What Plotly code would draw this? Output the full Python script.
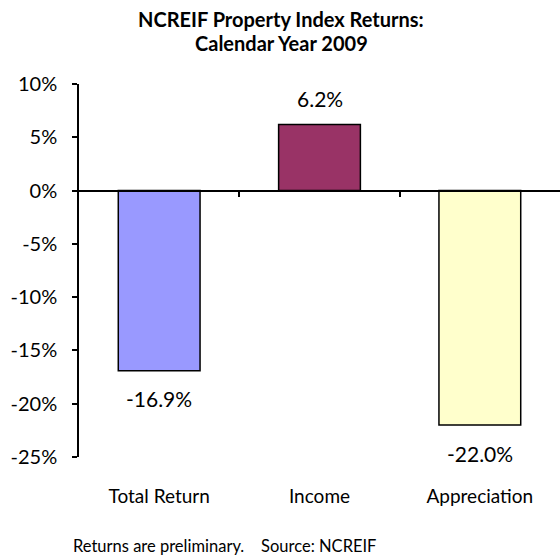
import plotly.graph_objects as go

categories = ["Total Return", "Income", "Appreciation"]
values = [-16.9, 6.2, -22.0]
labels = ["-16.9%", "6.2%", "-22.0%"]
colors = ["#9999FF", "#993366", "#FFFFCC"]
ytick_vals = [10, 5, 0, -5, -10, -15, -20, -25]
ytick_text = ["10%", "5%", "0%", "-5%", "-10%", "-15%", "-20%", "-25%"]
title_lines = ["NCREIF Property Index Returns:", "Calendar Year 2009"]
footer = "Returns are preliminary.&nbsp;&nbsp;&nbsp; Source: NCREIF"

FONT = "Lato"
ymin, ymax = -25, 10
W, H = 560, 559
ML, MR, MT, MB = 79, 0, 84, 102
PH = H - MT - MB


def py(px):
    """pixel row from top -> paper y"""
    return (H - MB - px) / PH


def px_x(px):
    return (px - ML) / (W - ML - MR)


fig = go.Figure()
fig.add_trace(go.Bar(
    x=[0, 1, 2], y=values, width=0.51,
    marker=dict(color=colors, line=dict(color="black", width=1.5)),
    hoverinfo="skip", showlegend=False,
))
# invisible trace on the zero-line axis
fig.add_trace(go.Scatter(x=[0, 2], y=[0, 0], xaxis="x2", mode="lines",
                         line=dict(width=0), hoverinfo="skip", showlegend=False))

for i, (v, t) in enumerate(zip(values, labels)):
    fig.add_annotation(x=i, y=v, text=t, showarrow=False,
                       yshift=26 if v > 0 else -28,
                       font=dict(family=FONT, size=21, color="black"))

for line, ypix in zip(title_lines, [19, 43]):
    fig.add_annotation(text="<b>" + line + "</b>", xref="paper", yref="paper",
                       x=px_x(281), y=py(ypix), xanchor="center", yanchor="middle",
                       showarrow=False,
                       font=dict(family=FONT, size=20, color="black"))

fig.add_annotation(text=footer, xref="paper", yref="paper",
                   x=px_x(71), y=py(546), xanchor="left", yanchor="middle",
                   showarrow=False, font=dict(family=FONT, size=16.5, color="black"))

fig.update_layout(
    width=W, height=H,
    margin=dict(l=ML, r=MR, t=MT, b=MB, autoexpand=False),
    paper_bgcolor="white", plot_bgcolor="white",
    font=dict(family=FONT, color="black"),
    xaxis=dict(range=[-0.5, 2.5], tickvals=[0, 1, 2], ticktext=categories,
               showline=False, showgrid=False, zeroline=False, ticks="",
               tickfont=dict(size=19), ticklabelstandoff=26, automargin=False),
    xaxis2=dict(range=[-0.5, 2.5], overlaying="x", anchor="free",
                position=(0 - ymin) / (ymax - ymin), side="bottom",
                tickvals=[0.5, 1.5], showticklabels=False, ticks="outside",
                ticklen=6, tickwidth=1.5, tickcolor="black",
                showline=True, linecolor="black", linewidth=1.5,
                showgrid=False, zeroline=False, automargin=False),
    yaxis=dict(range=[ymin, ymax], tickvals=ytick_vals, ticktext=ytick_text,
               showline=True, linecolor="black", linewidth=1.5,
               ticks="outside", ticklen=5, tickwidth=1.5, tickcolor="black",
               showgrid=False, zeroline=False, tickfont=dict(size=20),
               ticklabelstandoff=11, automargin=False),
)

fig.write_html("out.html", config={"displayModeBar": False},
               post_script="document.body.style.margin='0';document.body.style.padding='0';")
